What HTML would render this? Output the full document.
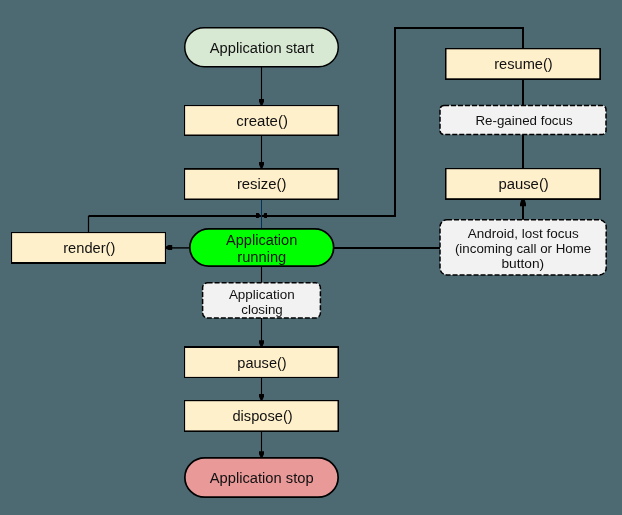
<!DOCTYPE html>
<html><head><meta charset="utf-8">
<style>
html,body{margin:0;padding:0;background:#4d6972;width:622px;height:515px;overflow:hidden;}
svg{display:block;will-change:transform;}
text{font-family:"Liberation Sans",sans-serif;fill:#111;text-anchor:middle;}
</style></head><body>
<svg width="622" height="515" viewBox="0 0 622 515">
<g><line x1="261.5" y1="66" x2="261.5" y2="100" stroke="#000" stroke-width="1.1"/><line x1="261.5" y1="135" x2="261.5" y2="163" stroke="#000" stroke-width="1.1"/><line x1="261.5" y1="265" x2="261.5" y2="283" stroke="#000" stroke-width="1.1"/><line x1="261.5" y1="318" x2="261.5" y2="341" stroke="#000" stroke-width="1.1"/><line x1="261.5" y1="377" x2="261.5" y2="395" stroke="#000" stroke-width="1.1"/><line x1="261.5" y1="431" x2="261.5" y2="452" stroke="#000" stroke-width="1.1"/><polyline points="523,48.5 523,28 395,28 395,216 88.5,216" fill="none" stroke="#000" stroke-width="2"/><line x1="88.5" y1="216" x2="88.5" y2="232.5" stroke="#000" stroke-width="1.2"/><line x1="523" y1="79" x2="523" y2="105.5" stroke="#000" stroke-width="2"/><line x1="523" y1="134" x2="523" y2="168.5" stroke="#000" stroke-width="2"/><line x1="523" y1="205" x2="523" y2="220" stroke="#000" stroke-width="2"/><line x1="333" y1="248" x2="440" y2="248" stroke="#000" stroke-width="2"/><line x1="171" y1="247.9" x2="190" y2="247.9" stroke="#000" stroke-width="1.4"/></g>
<g><polygon points="259.00,98.90 264.00,98.90 264.00,101.60 262.50,105.00 260.50,105.00 259.00,101.60" fill="#000"/><polygon points="259.00,161.90 264.00,161.90 264.00,164.60 262.50,168.00 260.50,168.00 259.00,164.60" fill="#000"/><polygon points="259.00,340.20 264.00,340.20 264.00,342.90 262.50,346.30 260.50,346.30 259.00,342.90" fill="#000"/><polygon points="259.00,393.90 264.00,393.90 264.00,396.60 262.50,400.00 260.50,400.00 259.00,396.60" fill="#000"/><polygon points="259.00,451.20 264.00,451.20 264.00,453.90 262.50,457.30 260.50,457.30 259.00,453.90" fill="#000"/><polygon points="520.00,206.20 526.00,206.20 526.00,203.80 524.80,200.00 521.20,200.00 520.00,203.80" fill="#000"/><polygon points="172.20,245.10 172.20,250.00 168.60,250.00 166.00,248.80 166.00,246.40 168.60,245.10" fill="#000"/><polygon points="256.00,213.10 258.60,213.10 259.80,214.20 259.80,216.80 258.60,217.90 256.00,217.90" fill="#000"/><polygon points="267.00,213.10 264.30,213.10 263.80,214.20 263.80,216.80 264.30,217.90 267.00,217.90" fill="#000"/></g>
<line x1="261.5" y1="199" x2="261.5" y2="229" stroke="#04305e" stroke-width="1.05"/>
<g><rect x="184.750" y="27.750" width="153.500" height="39.000" rx="19.5" ry="19.5" fill="#d7e9d2" stroke="#000" stroke-width="1.5"/><rect x="184" y="105" width="155" height="31" fill="#fff0cc"/><rect x="184" y="105" width="1.1" height="31" fill="#000"/><rect x="184" y="105" width="155" height="1.1" fill="#000"/><rect x="337.50" y="105" width="1.5" height="31" fill="#000"/><rect x="184" y="134.50" width="155" height="1.5" fill="#000"/><rect x="184" y="168" width="155" height="32" fill="#fff0cc"/><rect x="184" y="168" width="1.1" height="32" fill="#000"/><rect x="184" y="168" width="155" height="1.8" fill="#000"/><rect x="337.50" y="168" width="1.5" height="32" fill="#000"/><rect x="184" y="198.50" width="155" height="1.5" fill="#000"/><rect x="11" y="232" width="155" height="32" fill="#fff0cc"/><rect x="11" y="232" width="1.1" height="32" fill="#000"/><rect x="11" y="232" width="155" height="1.1" fill="#000"/><rect x="164.90" y="232" width="1.1" height="32" fill="#000"/><rect x="11" y="262.00" width="155" height="2" fill="#000"/><rect x="189.850" y="228.850" width="143.800" height="37.300" rx="19" ry="19" fill="#00ff00" stroke="#000" stroke-width="1.7"/><rect x="184" y="346" width="155" height="32" fill="#fff0cc"/><rect x="184" y="346" width="1.1" height="32" fill="#000"/><rect x="184" y="346" width="155" height="2" fill="#000"/><rect x="337.50" y="346" width="1.5" height="32" fill="#000"/><rect x="184" y="376.90" width="155" height="1.1" fill="#000"/><rect x="184" y="400" width="155" height="32" fill="#fff0cc"/><rect x="184" y="400" width="1.1" height="32" fill="#000"/><rect x="184" y="400" width="155" height="1.2" fill="#000"/><rect x="337.50" y="400" width="1.5" height="32" fill="#000"/><rect x="184" y="430.40" width="155" height="1.6" fill="#000"/><rect x="184.850" y="457.850" width="153.300" height="39.300" rx="20" ry="20" fill="#ea9999" stroke="#000" stroke-width="1.7"/><rect x="445" y="48" width="156" height="32" fill="#fff0cc"/><rect x="445" y="48" width="1.5" height="32" fill="#000"/><rect x="445" y="48" width="156" height="1.3" fill="#000"/><rect x="599.30" y="48" width="1.7" height="32" fill="#000"/><rect x="445" y="78.30" width="156" height="1.7" fill="#000"/><rect x="445" y="168" width="156" height="32" fill="#fff0cc"/><rect x="445" y="168" width="1.5" height="32" fill="#000"/><rect x="445" y="168" width="156" height="1.2" fill="#000"/><rect x="599.30" y="168" width="1.7" height="32" fill="#000"/><rect x="445" y="198.20" width="156" height="1.8" fill="#000"/></g>
<g><rect x="440" y="105.5" width="166" height="29" rx="4" ry="4" fill="#f2f2f2" stroke="#000" stroke-width="1.5" stroke-dasharray="5 2"/><rect x="440" y="219.7" width="166.2" height="55.3" rx="7" ry="7" fill="#f2f2f2" stroke="#000" stroke-width="1.5" stroke-dasharray="5 2"/><rect x="202.6" y="282.7" width="117.8" height="35.35" rx="5" ry="5" fill="#f2f2f2" stroke="#000" stroke-width="1.5" stroke-dasharray="5 2"/></g>
<g><text x="262.00" y="53" font-size="15.20" textLength="104.40" lengthAdjust="spacingAndGlyphs">Application start</text><text x="262.10" y="126" font-size="15.20" textLength="51.60" lengthAdjust="spacingAndGlyphs">create()</text><text x="261.70" y="189" font-size="15.20" textLength="49.60" lengthAdjust="spacingAndGlyphs">resize()</text><text x="89.30" y="253" font-size="15.20" textLength="52.20" lengthAdjust="spacingAndGlyphs">render()</text><text x="261.65" y="245" font-size="14.90" textLength="71.30" lengthAdjust="spacingAndGlyphs">Application</text><text x="261.80" y="262" font-size="14.90" textLength="49.00" lengthAdjust="spacingAndGlyphs">running</text><text x="261.85" y="299" font-size="13.60" textLength="65.90" lengthAdjust="spacingAndGlyphs">Application</text><text x="262.05" y="313.5" font-size="13.60" textLength="41.50" lengthAdjust="spacingAndGlyphs">closing</text><text x="262.00" y="368" font-size="15.20" textLength="49.40" lengthAdjust="spacingAndGlyphs">pause()</text><text x="262.55" y="421" font-size="15.20" textLength="60.30" lengthAdjust="spacingAndGlyphs">dispose()</text><text x="261.70" y="483" font-size="15.20" textLength="103.80" lengthAdjust="spacingAndGlyphs">Application stop</text><text x="523.45" y="69" font-size="15.20" textLength="58.50" lengthAdjust="spacingAndGlyphs">resume()</text><text x="524.00" y="125" font-size="13.60" textLength="97.20" lengthAdjust="spacingAndGlyphs">Re-gained focus</text><text x="523.60" y="189" font-size="15.20" textLength="50.40" lengthAdjust="spacingAndGlyphs">pause()</text><text x="523.20" y="238" font-size="13.60" textLength="111.00" lengthAdjust="spacingAndGlyphs">Android, lost focus</text><text x="523.10" y="253" font-size="13.60" textLength="136.40" lengthAdjust="spacingAndGlyphs">(incoming call or Home</text><text x="522.80" y="267.5" font-size="13.60" textLength="42.80" lengthAdjust="spacingAndGlyphs">button)</text></g>
</svg>
</body></html>
